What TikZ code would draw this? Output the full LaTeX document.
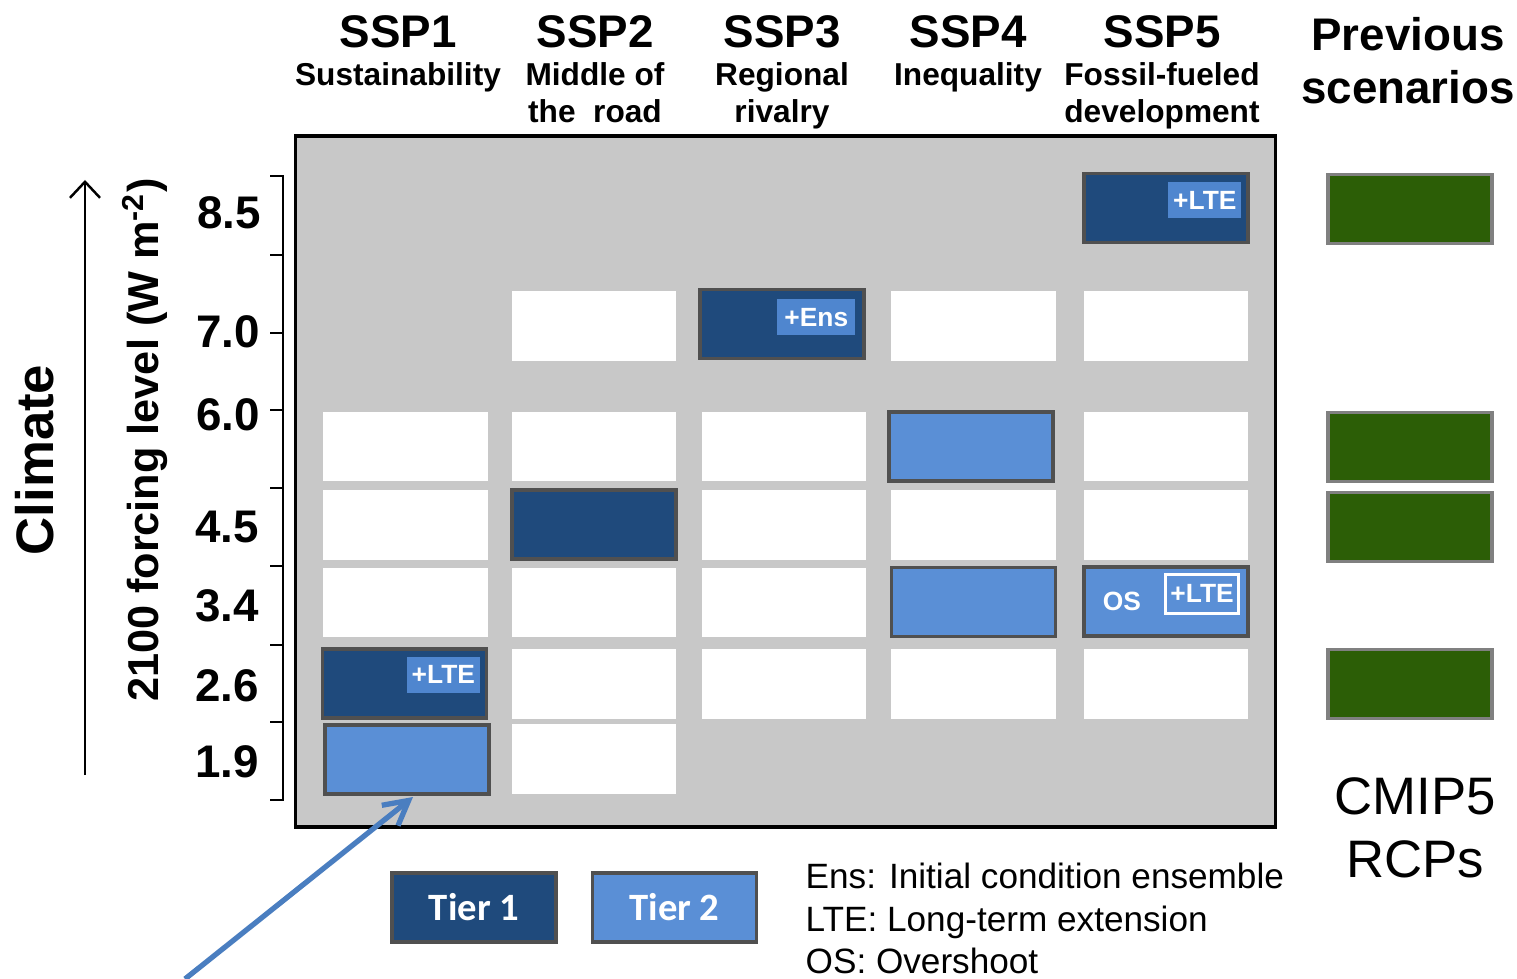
\documentclass[tikz,border=0pt]{standalone}
\usepackage{fontspec}
\setmainfont{Liberation Sans}
\newfontfamily\tierfont{Carlito}
\usetikzlibrary{positioning,arrows.meta}
\definecolor{tierone}{HTML}{1F4A7C}
\definecolor{tiertwo}{HTML}{5A8FD6}
\definecolor{tagblue}{HTML}{4F86CF}
\definecolor{rcpgreen}{HTML}{2C5E06}
\definecolor{panelgray}{HTML}{C8C8C8}
\definecolor{cellline}{HTML}{505050}
\definecolor{pointer}{HTML}{4A7EC0}

\begin{document}
\begin{tikzpicture}[x=0.01cm,y=-0.01cm,
  cell/.style={minimum width=1.64cm,minimum height=0.69cm,inner sep=0pt,outer sep=0pt},
  blank/.style={cell,fill=white},
  tierA/.style={cell,fill=tierone,draw=cellline,line width=1pt},
  tierB/.style={cell,fill=tiertwo,draw=cellline,line width=1pt},
  rcp/.style={cell,fill=rcpgreen,draw=gray,line width=1pt},
  tag/.style={fill=tagblue,text=white,font=\bfseries\fontsize{7.5}{8}\selectfont,
              minimum width=0.73cm,minimum height=0.36cm,inner sep=0pt,anchor=north east},
  ssp/.style={font=\bfseries\fontsize{13}{15}\selectfont,inner sep=0pt},
  sub/.style={font=\bfseries\fontsize{9}{10.5}\selectfont,align=center,anchor=north,inner sep=0pt},
  lvl/.style={font=\bfseries\fontsize{13}{15}\selectfont,inner sep=0pt},
  key/.style={font=\fontsize{10}{12.2}\selectfont,align=left,anchor=north west,inner sep=0pt},
  keybox/.style={cell,draw=cellline,line width=1pt,text=white,font=\tierfont\bfseries\fontsize{11}{13}\selectfont}]
\useasboundingbox (0,0) rectangle (1517,979);
% headers
\node[ssp] (h1) at (398,32) {SSP1};
\node[ssp] (h2) at (595,32) {SSP2};
\node[ssp] (h3) at (782,32) {SSP3};
\node[ssp] (h4) at (968,32) {SSP4};
\node[ssp] (h5) at (1162,32) {SSP5};
\node[sub] (t1) at (398,62) {Sustainability};
\node[sub] (t2) at (595,62) {Middle of\\the\ \ road};
\node[sub] (t3) at (782,62) {Regional\\rivalry};
\node[sub] (t4) at (968,62) {Inequality};
\node[sub] (t5) at (1162,62) {Fossil-fueled\\development};
\node[ssp,align=center,font=\bfseries\fontsize{13}{15}\selectfont] (prev) at (1408,61) {Previous\\scenarios};
% panel
\node[draw,line width=1pt,fill=panelgray,minimum width=9.79cm,minimum height=6.91cm,inner sep=0pt] (panel) at (785.5,481.5) {};
\foreach \x/\y/\n in {594/326/b27,973.5/326/b47,1166/326/b57,
    405.5/446.5/b16,594/446.5/b26,784/446.5/b36,1166/446.5/b56,
    405.5/525/b15,784/525/b35,973.5/525/b45,1166/525/b55,
    405.5/602.5/b13,594/602.5/b23,784/602.5/b33,
    594/684/b22,784/684/b32,973.5/684/b42,1166/684/b52,
    594/759/b21}
  \node[blank] (\n) at (\x,\y) {};
\node[tierA] (s5r85) at (1166,208) {};
\node[tierA] (s3r70) at (782,324) {};
\node[tierB] (s4r60) at (971,446.5) {};
\node[tierA] (s2r45) at (594,524.5) {};
\node[tierB] (s4r34) at (973.5,602) {};
\node[tierB] (s5r34) at (1166,601.5) {};
\node[tierA] (s1r26) at (404.5,683.5) {};
\node[tierB] (s1r19) at (407,759.5) {};
% tags
\node[tag] (lte5) at ([xshift=-0.06cm,yshift=-0.08cm]s5r85.north east) {+LTE};
\node[tag,minimum width=0.78cm] (ens3) at ([xshift=-0.08cm,yshift=-0.09cm]s3r70.north east) {+Ens};
\node[tag] (lte1) at ([xshift=-0.06cm,yshift=-0.07cm]s1r26.north east) {+LTE};
\node[tag,fill=tiertwo,draw=white,line width=0.8pt,minimum height=0.39cm] (lte34) at ([xshift=-0.08cm,yshift=-0.06cm]s5r34.north east) {+LTE};
\node[font=\bfseries\fontsize{7.5}{8}\selectfont,text=white] (os) at (1122,601) {OS};
% previous scenarios
\node[rcp] (rcp85) at (1410,209) {};
\node[rcp] (rcp60) at (1410,447) {};
\node[rcp] (rcp45) at (1410,527) {};
\node[rcp] (rcp26) at (1410,684) {};
\node[align=center,font=\fontsize{15}{18}\selectfont] (cmip) at (1415,828) {CMIP5\\RCPs};
% forcing axis
\draw[line width=0.7pt] (270,176) -- (283,176) -- (283,800) -- (270,800);
\foreach \t in {255,333,410,488,566,645,722}
  \draw[line width=0.7pt] (270,\t) -- (283,\t);
\node[lvl] (l85) at (229,213) {8.5};
\node[lvl] (l70) at (228,332) {7.0};
\node[lvl] (l60) at (228,415) {6.0};
\node[lvl] (l45) at (227,527) {4.5};
\node[lvl] (l34) at (227,606) {3.4};
\node[lvl] (l26) at (227,686) {2.6};
\node[lvl] (l19) at (227,762) {1.9};
\node[rotate=90,font=\bfseries\fontsize{12.3}{14}\selectfont,inner sep=0pt] (axis) at (145,440) {2100 forcing level (W m\textsuperscript{-2})};
\node[rotate=90,font=\bfseries\fontsize{15}{18}\selectfont,inner sep=0pt] (clim) at (35,460) {Climate};
\coordinate (cbot) at (85,775);
\coordinate (ctop) at (85,180);
\draw[line width=0.7pt,-{Straight Barb[length=1.6mm,width=3mm]}] (cbot) -- (ctop);
% legend
\node[keybox,fill=tierone] (k1) at (474,907.5) {Tier 1};
\node[keybox,fill=tiertwo] (k2) at (674.5,907.5) {Tier 2};
\node[key] (keys) at (805,862) {Ens: Initial condition ensemble\\LTE: Long-term extension\\OS: Overshoot};
% pointer
\coordinate (ptail) at (185,979);
\draw[pointer,line width=1.5pt,-{Straight Barb[length=2.4mm,width=2.6mm]}] (ptail) -- ([xshift=0.06cm,yshift=-0.03cm]s1r19.south);
\end{tikzpicture}
\end{document}
